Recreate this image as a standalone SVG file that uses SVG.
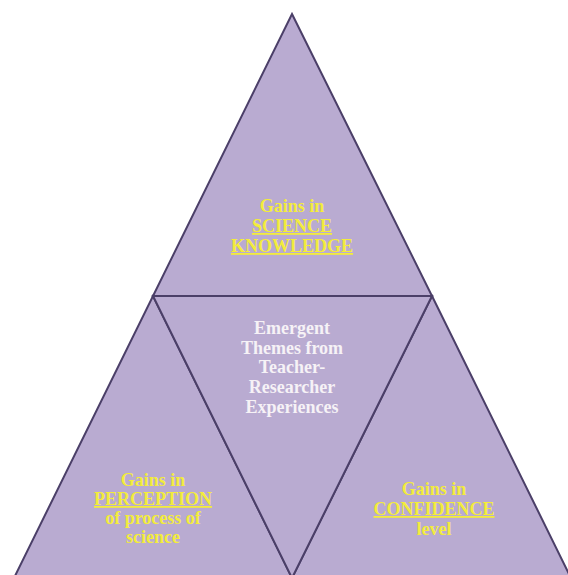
<svg xmlns="http://www.w3.org/2000/svg" width="568" height="575" viewBox="0 0 568 575">
<style>
.tri{fill:#b9abd1;stroke:#4b3f68;stroke-width:2;stroke-linejoin:miter}
.t{font-family:"Liberation Serif","Times New Roman",serif;font-weight:bold;font-size:18px;text-anchor:middle}
.y{fill:#f3ec3c}
.w{fill:#f6f2f6}
.u{text-decoration:underline}
</style>
<rect width="568" height="575" fill="#ffffff"/>
<g id="top">
<polygon class="tri" points="292,14 432,296 153,296"/>
<text class="t y" x="292" y="212">Gains in</text>
<text class="t y u" x="292" y="232">SCIENCE</text>
<text class="t y u" x="292" y="252">KNOWLEDGE</text>
</g>
<g id="left">
<polygon class="tri" points="153,296 292,578 14,578"/>
<text class="t y" x="153" y="486">Gains in</text>
<text class="t y u" x="153" y="505">PERCEPTION</text>
<text class="t y" x="153" y="524">of process of</text>
<text class="t y" x="153" y="543">science</text>
</g>
<g id="right">
<polygon class="tri" points="432,296 571,578 292,578"/>
<text class="t y" x="434" y="495">Gains in</text>
<text class="t y u" x="434" y="515">CONFIDENCE</text>
<text class="t y" x="434" y="535">level</text>
</g>
<g id="center">
<polygon class="tri" points="153,296 432,296 292,578"/>
<text class="t w" x="292" y="334">Emergent</text>
<text class="t w" x="292" y="354">Themes from</text>
<text class="t w" x="292" y="373">Teacher-</text>
<text class="t w" x="292" y="393">Researcher</text>
<text class="t w" x="292" y="413">Experiences</text>
</g>
<g id="connectors"></g>
</svg>
